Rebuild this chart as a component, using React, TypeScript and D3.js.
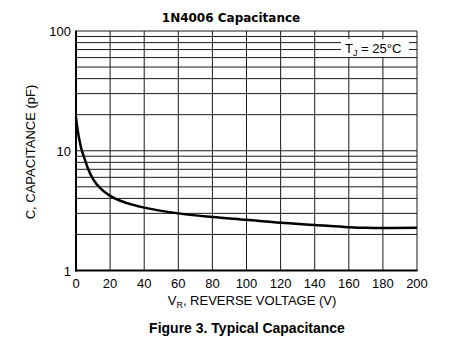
import React from "react";
import * as d3 from "d3";

const voltage = [0, 1, 2, 3, 5, 7, 10, 15, 20, 30, 40, 60, 80, 100, 120, 140, 160, 170, 180, 200];
const capacitance = [19, 14.8, 12.3, 10.6, 8.6, 7.1, 5.8, 4.75, 4.2, 3.65, 3.35, 3.0, 2.8, 2.65, 2.5, 2.4, 2.3, 2.27, 2.26, 2.27];
const xTicks = [0, 20, 40, 60, 80, 100, 120, 140, 160, 180, 200];
const yTickLabels = [1, 10, 100];

const W = 470, H = 356;
const left = 76, right = 417, top = 31, bottom = 270.5;

export default function App() {
  const x = d3.scaleLinear().domain([0, 200]).range([left, right]);
  const y = d3.scaleLog().domain([1, 100]).range([bottom, top]);
  const yGrid: number[] = [];
  for (let d = 1; d <= 10; d *= 10) for (let k = 2; k <= 10; k++) yGrid.push(k * d);
  const pts: [number, number][] = voltage.map((v, i) => [v, capacitance[i]]);
  const line = d3.line<[number, number]>().x(d => x(d[0])).y(d => y(d[1])).curve(d3.curveMonotoneX);
  const font = "'Liberation Sans', Arial, sans-serif";
  return (
    <svg width={W} height={H} style={{ position: "absolute", left: 0, top: 0, background: "#fff" }}>
      <rect width={W} height={H} fill="#fff" />
      <text x={231} y={22} textAnchor="middle" fontFamily="'DejaVu Sans', sans-serif" fontWeight="bold" fontSize={12} fill="#000">1N4006 Capacitance</text>
      {yGrid.map(v => (
        <line key={"h" + v} x1={left} x2={right} y1={y(v)} y2={y(v)} stroke="#1a1a1a" strokeWidth={1} />
      ))}
      {xTicks.map(v => (
        <line key={"v" + v} x1={x(v)} x2={x(v)} y1={top} y2={bottom} stroke="#1a1a1a" strokeWidth={1} />
      ))}
      <line x1={left} x2={left} y1={top - 0.5} y2={bottom + 1} stroke="#000" strokeWidth={2} />
      <line x1={left - 1} x2={right + 0.5} y1={bottom} y2={bottom} stroke="#000" strokeWidth={2} />
      <rect x={341} y={39} width={68} height={18} fill="#fff" />
      <text x={345} y={53} fontFamily={font} fontSize={13} fill="#000">
        T<tspan fontSize={9} dy={3}>J</tspan><tspan dy={-3}> = 25°C</tspan>
      </text>
      <path d={line(pts) || ""} fill="none" stroke="#000" strokeWidth={2.5} />
      {yTickLabels.map(v => (
        <text key={"yl" + v} x={left - 5} y={y(v) + 5} textAnchor="end" fontFamily={font} fontSize={13} fill="#000">{v}</text>
      ))}
      {xTicks.map(v => (
        <text key={"xl" + v} x={x(v)} y={bottom + 17} textAnchor="middle" fontFamily={font} fontSize={13} fill="#000">{v}</text>
      ))}
      <text x={252} y={305} textAnchor="middle" fontFamily={font} fontSize={13} fill="#000">
        V<tspan fontSize={9} dy={3}>R</tspan><tspan dy={-3}>, REVERSE VOLTAGE (V)</tspan>
      </text>
      <text transform={`translate(35,152) rotate(-90)`} textAnchor="middle" fontFamily={font} fontSize={13} fill="#000">C, CAPACITANCE (pF)</text>
      <text x={247} y={333} textAnchor="middle" fontFamily={font} fontWeight="bold" fontSize={14} fill="#000">Figure 3. Typical Capacitance</text>
    </svg>
  );
}
